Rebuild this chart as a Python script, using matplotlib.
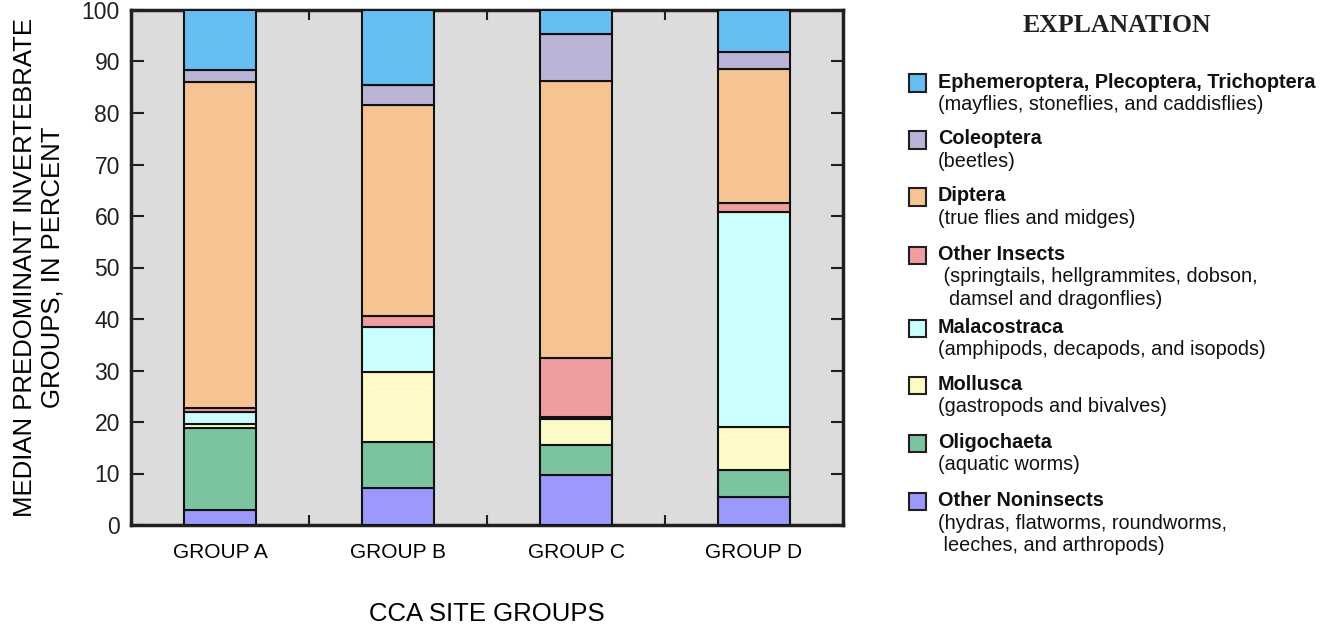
import matplotlib
matplotlib.use("Agg")
import matplotlib.pyplot as plt
from matplotlib.patches import Rectangle
import numpy as np

plt.rcParams['font.family'] = ['Liberation Sans', 'DejaVu Sans']

groups = ["GROUP A", "GROUP B", "GROUP C", "GROUP D"]
# stacked from bottom to top
other_noninsects = [3.0, 7.1, 9.8, 5.4]
oligochaeta = [15.8, 9.0, 5.8, 5.3]
mollusca = [0.9, 13.7, 4.9, 8.3]
malacostraca = [2.3, 8.6, 0.5, 41.7]
other_insects = [0.8, 2.2, 11.5, 1.8]
diptera = [63.3, 40.9, 53.8, 26.1]
coleoptera = [2.3, 3.9, 9.1, 3.3]
ept = [11.6, 14.6, 4.6, 8.1]

series = [
    ("Other Noninsects", other_noninsects, "#9b99fb"),
    ("Oligochaeta", oligochaeta, "#7cc4a0"),
    ("Mollusca", mollusca, "#fefac8"),
    ("Malacostraca", malacostraca, "#ccfefe"),
    ("Other Insects", other_insects, "#f09da0"),
    ("Diptera", diptera, "#f5c492"),
    ("Coleoptera", coleoptera, "#bab4d6"),
    ("Ephemeroptera, Plecoptera, Trichoptera", ept, "#66bef2"),
]

legend_entries = [
    ("Ephemeroptera, Plecoptera, Trichoptera", ["(mayflies, stoneflies, and caddisflies)"], "#66bef2"),
    ("Coleoptera", ["(beetles)"], "#bab4d6"),
    ("Diptera", ["(true flies and midges)"], "#f5c492"),
    ("Other Insects", [" (springtails, hellgrammites, dobson,", "  damsel and dragonflies)"], "#f09da0"),
    ("Malacostraca", ["(amphipods, decapods, and isopods)"], "#ccfefe"),
    ("Mollusca", ["(gastropods and bivalves)"], "#fefac8"),
    ("Oligochaeta", ["(aquatic worms)"], "#7cc4a0"),
    ("Other Noninsects", ["(hydras, flatworms, roundworms,", " leeches, and arthropods)"], "#9b99fb"),
]

W, H = 1336, 628
fig = plt.figure(figsize=(W / 100, H / 100), dpi=100)
ax = fig.add_axes([131 / W, (H - 525) / H, (843 - 131) / W, (525 - 10) / H])
ax.set_facecolor("#dcdcdc")

x = np.arange(len(groups))
bottom = np.zeros(len(groups))
for name, vals, col in series:
    v = np.array(vals)
    ax.bar(x, v, bottom=bottom, width=0.41, color=col, edgecolor="#111111", linewidth=1.5, zorder=3)
    bottom += v

ax.set_xlim(-0.5, 3.5)
ax.set_ylim(0, 100)
ax.set_yticks(np.arange(0, 101, 10))
ax.tick_params(axis="y", direction="in", length=9, width=1.5, left=True, right=True,
               labelsize=16.5, pad=8, colors="#231f20")
ax.set_xticks(x)
ax.set_xticklabels(groups)
ax.tick_params(axis="x", which="major", length=0, labelsize=15, pad=13)
ax.set_xticks([0.5, 1.5, 2.5], minor=True)
ax.tick_params(axis="x", which="minor", direction="in", length=7, width=1.5, top=True, bottom=True,
               color="#231f20")
for s in ax.spines.values():
    s.set_linewidth(2.5)
    s.set_color("#231f20")

ax.set_xlabel("CCA SITE GROUPS", fontsize=18.5, labelpad=29)
ax.set_ylabel("MEDIAN PREDOMINANT INVERTEBRATE\nGROUPS, IN PERCENT", fontsize=18.5, labelpad=12,
              linespacing=1.2)

def fx(px):
    return px / W

def fy(py):
    return 1 - py / H

fig.text(fx(1117), fy(25), "EXPLANATION", family=["Liberation Serif", "DejaVu Serif"],
         fontweight="bold", fontsize=18.5, ha="center", va="center", color="#231f20")

bold_y = [82, 139, 196, 254.5, 327, 384, 442.5, 500.7]
for (title, subs, col), by in zip(legend_entries, bold_y):
    sq = 17
    fig.patches.append(Rectangle((fx(909), fy(by + 1 + sq / 2)), sq / W, sq / H,
                                 transform=fig.transFigure, facecolor=col,
                                 edgecolor="#231f20", linewidth=1.5))
    fig.text(fx(938), fy(by), title, fontweight="bold", fontsize=14.3, ha="left", va="center",
             color="#111111")
    for i, s in enumerate(subs):
        fig.text(fx(938), fy(by + 22.5 * (i + 1)), s, fontsize=14.3, ha="left", va="center",
                 color="#111111")

fig.savefig("out.png", dpi=100)
